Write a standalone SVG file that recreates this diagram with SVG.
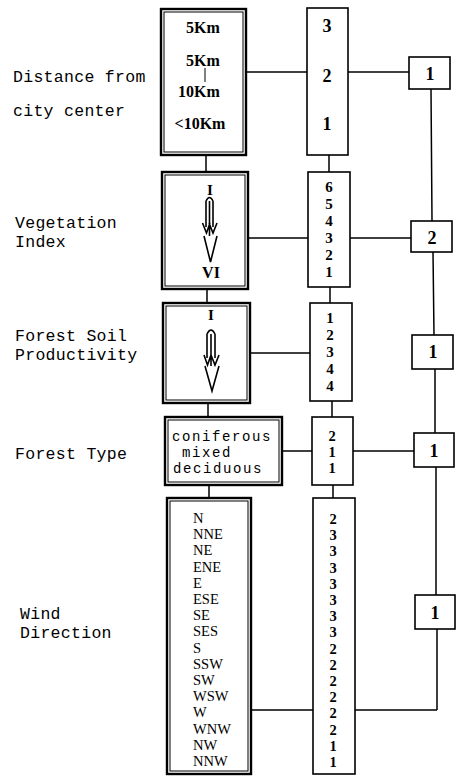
<svg xmlns="http://www.w3.org/2000/svg" width="457" height="777" viewBox="0 0 457 777">
<style>
.bg{fill:#fff}
.outer{fill:#fff;stroke:#000;stroke-width:2.4}
.inner{fill:none;stroke:#000;stroke-width:1}
.box{fill:#fff;stroke:#000;stroke-width:1.6}
.ln{fill:none;stroke:#000;stroke-width:1.5}
.arr{fill:none;stroke:#000;stroke-width:1.6;stroke-linejoin:miter}
.lab{font-family:"Liberation Mono","DejaVu Sans Mono",monospace;font-size:16.5px;letter-spacing:0.3px;fill:#000}
.ft{font-family:"Liberation Mono","DejaVu Sans Mono",monospace;font-size:14px;letter-spacing:1.6px;fill:#000}
.km{font-family:"Liberation Serif","Times New Roman",serif;font-size:16px;font-weight:bold;fill:#000;text-anchor:middle}
.dg{font-family:"Liberation Serif","Times New Roman",serif;font-size:18px;font-weight:bold;fill:#000;text-anchor:middle}
.st{font-family:"Liberation Serif","Times New Roman",serif;font-size:15px;font-weight:bold;fill:#000;text-anchor:middle}
.st2{font-family:"Liberation Serif","Times New Roman",serif;font-size:14.5px;font-weight:bold;fill:#000;text-anchor:middle}
.dir{font-family:"Liberation Serif","Times New Roman",serif;font-size:14.5px;fill:#000}
.rn{font-family:"Liberation Serif","Times New Roman",serif;font-size:15px;font-weight:bold;fill:#000;text-anchor:middle}
</style>
<rect class="bg" x="0" y="0" width="457" height="777"/>

<g id="connectors">
  <path class="ln" d="M206,155 V172 M207,289 V303 M208,403 V417 M209,485 V498"/>
  <path class="ln" d="M329,155 V172 M330,287 V303 M332,401 V417 M333,485 V498"/>
  <path class="ln" d="M246,72 H307 M248,238 H308 M250,353 H310 M282,451 H312 M251,710 H313"/>
  <path class="ln" d="M348,72 H409 M350,238 H411 M353,451 H414 M355,710 H437"/>
  <path class="ln" d="M431,89 L432,221 M433,252 L434,335 M435,369 V433 M436,467 V595 M437,629 V710"/>
</g>

<g id="label-distance">
  <text class="lab" x="13" y="82">Distance from</text>
  <text class="lab" x="13" y="116">city center</text>
</g>
<g id="label-vegetation">
  <text class="lab" x="15" y="228">Vegetation</text>
  <text class="lab" x="15" y="247">Index</text>
</g>
<g id="label-soil">
  <text class="lab" x="15" y="341">Forest Soil</text>
  <text class="lab" x="15" y="360">Productivity</text>
</g>
<g id="label-foresttype">
  <text class="lab" x="15" y="459">Forest Type</text>
</g>
<g id="label-wind">
  <text class="lab" x="20" y="619">Wind</text>
  <text class="lab" x="20" y="638">Direction</text>
</g>

<g id="box-distance">
  <rect class="outer" x="161" y="9" width="85" height="146"/>
  <rect class="inner" x="164" y="12" width="79" height="140"/>
  <text class="km" x="203" y="33">5Km</text>
  <text class="km" x="203" y="66">5Km</text>
  <path class="ln" d="M205,68 V82" style="stroke-width:1"/>
  <text class="km" x="199" y="97">10Km</text>
  <text class="km" x="200" y="129">&lt;10Km</text>
</g>

<g id="box-vegetation">
  <rect class="outer" x="162" y="172" width="86" height="117"/>
  <rect class="inner" x="165" y="175" width="80" height="111"/>
  <text class="rn" x="210" y="195">I</text>
  <path class="arr" d="M206,201 Q209.5,194 213,201 M206,201 V227 M213,201 V227 M209.5,201 V236 M202.5,223 L206.5,233 L210,223 M209,223 L213,233 L217,223 M204,236 L210.5,262 L217,236"/>
  <text class="rn" x="211" y="278" style="font-size:16px">VI</text>
</g>

<g id="box-soil">
  <rect class="outer" x="163" y="303" width="87" height="100"/>
  <rect class="inner" x="166" y="306" width="81" height="94"/>
  <text class="rn" x="211" y="320">I</text>
  <path class="arr" d="M207,334 Q211,326 215,334 M207,334 V358 M215,334 V358 M211,334 V366 M204,355 L207.5,365 L211,355 M211,355 L215,365 L219,355 M205,366 L212,391 L219,366"/>
</g>

<g id="box-foresttype">
  <rect class="outer" x="165" y="417" width="117" height="68"/>
  <rect class="inner" x="168" y="420" width="111" height="62"/>
  <text class="ft" x="172" y="441">coniferous</text>
  <text class="ft" x="182" y="457">mixed</text>
  <text class="ft" x="173" y="473">deciduous</text>
</g>

<g id="box-wind">
  <rect class="outer" x="167" y="498" width="84" height="276"/>
  <rect class="inner" x="170" y="501" width="78" height="270"/>
  <text class="dir" x="193" y="523">N</text>
  <text class="dir" x="193" y="539.2">NNE</text>
  <text class="dir" x="193" y="555.4">NE</text>
  <text class="dir" x="193" y="571.6">ENE</text>
  <text class="dir" x="193" y="587.8">E</text>
  <text class="dir" x="193" y="604">ESE</text>
  <text class="dir" x="193" y="620.2">SE</text>
  <text class="dir" x="193" y="636.4">SES</text>
  <text class="dir" x="193" y="652.6">S</text>
  <text class="dir" x="193" y="668.8">SSW</text>
  <text class="dir" x="193" y="685">SW</text>
  <text class="dir" x="193" y="701.2">WSW</text>
  <text class="dir" x="193" y="717.4">W</text>
  <text class="dir" x="193" y="733.6">WNW</text>
  <text class="dir" x="193" y="749.8">NW</text>
  <text class="dir" x="193" y="766">NNW</text>
</g>

<g id="score-distance">
  <rect class="box" x="307" y="8" width="41" height="147"/>
  <text class="dg" x="327" y="32">3</text>
  <text class="dg" x="327" y="82">2</text>
  <text class="dg" x="327" y="130">1</text>
</g>

<g id="score-vegetation">
  <rect class="box" x="308" y="172" width="42" height="115"/>
  <text class="st" x="329" y="192">6</text>
  <text class="st" x="329" y="209">5</text>
  <text class="st" x="329" y="226">4</text>
  <text class="st" x="329" y="243">3</text>
  <text class="st" x="329" y="260">2</text>
  <text class="st" x="329" y="277">1</text>
</g>

<g id="score-soil">
  <rect class="box" x="310" y="303" width="42" height="98"/>
  <text class="st" x="330" y="323">1</text>
  <text class="st" x="330" y="340">2</text>
  <text class="st" x="330" y="357">3</text>
  <text class="st" x="330" y="374">4</text>
  <text class="st" x="330" y="391">4</text>
</g>

<g id="score-foresttype">
  <rect class="box" x="312" y="417" width="41" height="68"/>
  <text class="st2" x="332" y="441">2</text>
  <text class="st2" x="332" y="457.2">1</text>
  <text class="st2" x="332" y="473.4">1</text>
</g>

<g id="score-wind">
  <rect class="box" x="313" y="498" width="42" height="276"/>
  <text class="st2" x="333" y="524">2</text>
  <text class="st2" x="333" y="540.2">3</text>
  <text class="st2" x="333" y="556.4">3</text>
  <text class="st2" x="333" y="572.6">3</text>
  <text class="st2" x="333" y="588.8">3</text>
  <text class="st2" x="333" y="605">3</text>
  <text class="st2" x="333" y="621.2">3</text>
  <text class="st2" x="333" y="637.4">3</text>
  <text class="st2" x="333" y="653.6">2</text>
  <text class="st2" x="333" y="669.8">2</text>
  <text class="st2" x="333" y="686">2</text>
  <text class="st2" x="333" y="702.2">2</text>
  <text class="st2" x="333" y="718.4">2</text>
  <text class="st2" x="333" y="734.6">2</text>
  <text class="st2" x="333" y="750.8">1</text>
  <text class="st2" x="333" y="767">1</text>
</g>

<g id="weight-distance">
  <rect class="box" x="409" y="57" width="41" height="32"/>
  <text class="dg" x="430" y="80">1</text>
</g>
<g id="weight-vegetation">
  <rect class="box" x="411" y="221" width="41" height="31"/>
  <text class="dg" x="432" y="244">2</text>
</g>
<g id="weight-soil">
  <rect class="box" x="412" y="335" width="41" height="34"/>
  <text class="dg" x="433" y="358">1</text>
</g>
<g id="weight-foresttype">
  <rect class="box" x="414" y="433" width="40" height="34"/>
  <text class="dg" x="434" y="457">1</text>
</g>
<g id="weight-wind">
  <rect class="box" x="415" y="595" width="40" height="34"/>
  <text class="dg" x="435" y="619">1</text>
</g>
</svg>
